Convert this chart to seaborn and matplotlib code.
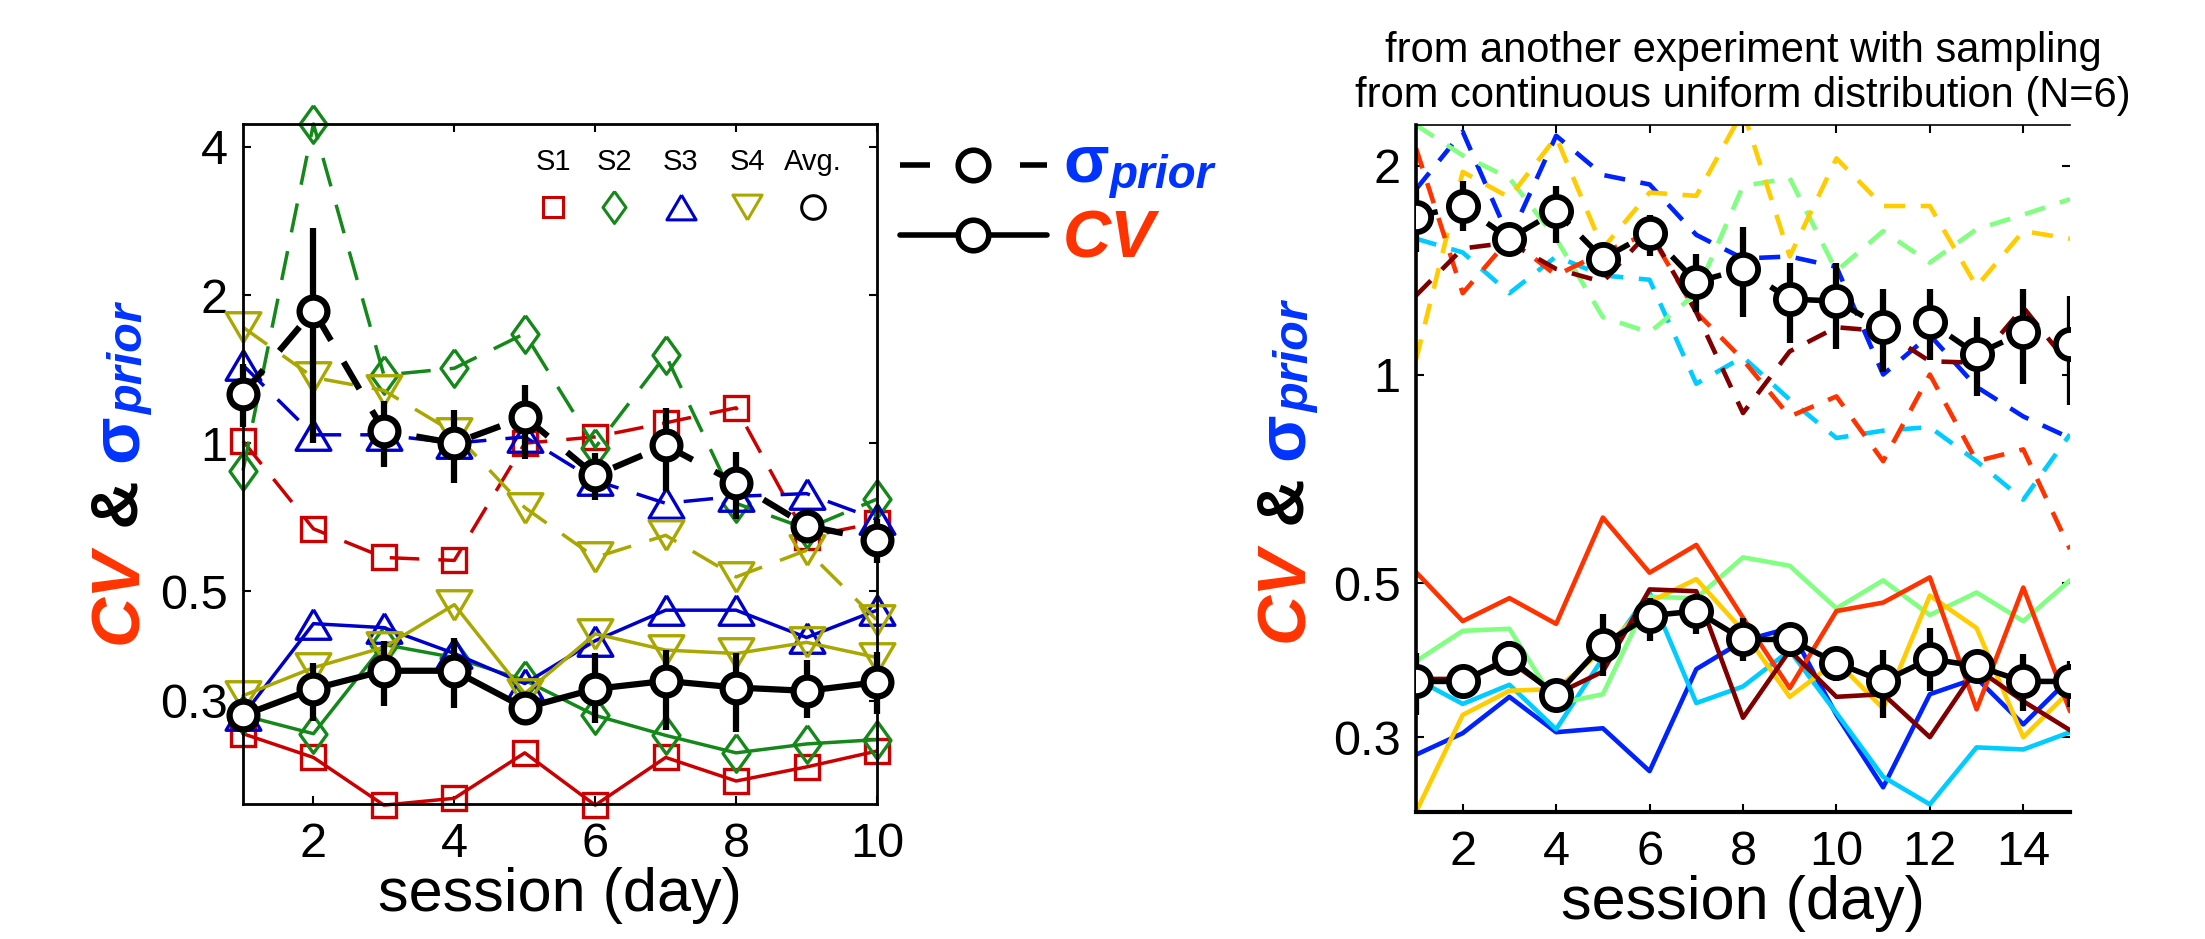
import numpy as np
import pandas as pd
import seaborn as sns
import matplotlib.pyplot as plt
from matplotlib.lines import Line2D
from matplotlib.ticker import NullLocator

sns.set_style("ticks")
plt.rcParams['font.family'] = ['Liberation Sans', 'DejaVu Sans']
plt.rcParams.update({'text.color': 'black', 'axes.labelcolor': 'black',
                     'xtick.color': 'black', 'ytick.color': 'black',
                     'axes.edgecolor': 'black'})

# ---------------- left panel: 4 subjects, 10 sessions ----------------
sessions_a = [1, 2, 3, 4, 5, 6, 7, 8, 9, 10]
s1_prior = [1.01, 0.67, 0.586, 0.578, 1.0, 1.03, 1.10, 1.18, 0.645, 0.69]
s2_prior = [0.88, 4.45, 1.375, 1.42, 1.67, 0.98, 1.51, 0.755, 0.67, 0.77]
s3_prior = [1.44, 1.04, 1.04, 1.0, 1.03, 0.84, 0.755, 0.78, 0.79, 0.70]
s4_prior = [1.72, 1.36, 1.28, 1.05, 0.74, 0.586, 0.65, 0.535, 0.606, 0.437]
s1_cv = [0.257, 0.23, 0.184, 0.19, 0.235, 0.184, 0.23, 0.206, 0.22, 0.237]
s2_cv = [0.28, 0.257, 0.39, 0.367, 0.33, 0.28, 0.255, 0.235, 0.245, 0.25]
s3_cv = [0.28, 0.43, 0.422, 0.374, 0.325, 0.397, 0.458, 0.458, 0.403, 0.458]
s4_cv = [0.307, 0.35, 0.385, 0.47, 0.31, 0.41, 0.38, 0.374, 0.394, 0.367]
avg_prior = [1.26, 1.86, 1.06, 1.0, 1.13, 0.86, 0.99, 0.83, 0.68, 0.635]
avg_prior_lo = [1.08, 1.0, 0.894, 0.83, 0.93, 0.766, 0.80, 0.70, 0.645, 0.57]
avg_prior_hi = [1.45, 2.74, 1.22, 1.17, 1.31, 0.954, 1.18, 0.96, 0.72, 0.70]
avg_cv = [0.28, 0.317, 0.345, 0.345, 0.29, 0.317, 0.329, 0.319, 0.314, 0.327]
avg_cv_lo = [0.275, 0.273, 0.293, 0.29, 0.285, 0.27, 0.261, 0.259, 0.276, 0.282]
avg_cv_hi = [0.285, 0.357, 0.397, 0.403, 0.295, 0.374, 0.38, 0.374, 0.362, 0.376]
subject_names = ['S1', 'S2', 'S3', 'S4', 'Avg.']

# ---------------- right panel: 6 subjects, 15 sessions ----------------
sessions_b = list(range(1, 16))
blue_prior = [1.85, 2.24, 1.57, 2.21, 1.94, 1.88, 1.59, 1.47, 1.48, 1.43, 1.0, 1.14, 0.96, 0.87, 0.81]
cyan_prior = [1.57, 1.50, 1.31, 1.48, 1.39, 1.37, 0.97, 1.06, 0.92, 0.81, 0.83, 0.84, 0.75, 0.66, 0.82]
green_prior = [2.29, 2.07, 1.92, 1.57, 1.21, 1.15, 1.31, 1.87, 1.92, 1.41, 1.61, 1.45, 1.62, 1.70, 1.79]
yellow_prior = [1.05, 1.96, 1.80, 2.20, 1.52, 1.83, 1.81, 2.40, 1.48, 2.05, 1.75, 1.75, 1.34, 1.61, 1.57]
red_prior = [2.12, 1.31, 1.57, 1.39, 1.50, 1.60, 1.23, 1.05, 0.87, 0.93, 0.75, 1.0, 0.75, 0.78, 0.56]
darkred_prior = [1.30, 1.52, 1.55, 1.42, 1.36, 1.61, 1.23, 0.88, 1.08, 1.17, 1.155, 1.045, 1.04, 1.25, 1.03]
blue_cv = [0.283, 0.304, 0.343, 0.305, 0.309, 0.268, 0.376, 0.413, 0.431, 0.323, 0.254, 0.346, 0.365, 0.313, 0.365]
cyan_cv = [0.364, 0.335, 0.357, 0.308, 0.39, 0.485, 0.336, 0.355, 0.40, 0.325, 0.263, 0.24, 0.29, 0.288, 0.305]
green_cv = [0.386, 0.427, 0.43, 0.335, 0.346, 0.478, 0.476, 0.545, 0.53, 0.46, 0.505, 0.45, 0.485, 0.441, 0.505]
yellow_cv = [0.234, 0.323, 0.35, 0.352, 0.40, 0.47, 0.507, 0.427, 0.343, 0.386, 0.33, 0.48, 0.431, 0.30, 0.35]
red_cv = [0.519, 0.441, 0.476, 0.437, 0.622, 0.518, 0.568, 0.446, 0.353, 0.456, 0.469, 0.51, 0.329, 0.493, 0.327]
darkred_cv = [0.364, 0.364, 0.386, 0.346, 0.373, 0.49, 0.487, 0.32, 0.40, 0.343, 0.346, 0.30, 0.377, 0.338, 0.307]
avgb_prior = [1.69, 1.75, 1.57, 1.72, 1.47, 1.60, 1.36, 1.42, 1.285, 1.276, 1.17, 1.19, 1.07, 1.15, 1.105]
avgb_prior_lo = [1.50, 1.61, 1.52, 1.55, 1.42, 1.48, 1.23, 1.21, 1.11, 1.09, 1.01, 1.05, 0.93, 0.97, 0.905]
avgb_prior_hi = [1.87, 1.90, 1.62, 1.87, 1.52, 1.70, 1.49, 1.63, 1.45, 1.45, 1.33, 1.33, 1.21, 1.33, 1.30]
avgb_cv = [0.361, 0.361, 0.39, 0.345, 0.408, 0.449, 0.456, 0.415, 0.415, 0.384, 0.361, 0.389, 0.38, 0.361, 0.361]
avgb_cv_lo = [0.323, 0.35, 0.373, 0.334, 0.368, 0.413, 0.422, 0.386, 0.40, 0.361, 0.32, 0.35, 0.361, 0.327, 0.332]
avgb_cv_hi = [0.397, 0.373, 0.413, 0.36, 0.452, 0.476, 0.483, 0.446, 0.43, 0.403, 0.401, 0.431, 0.395, 0.395, 0.386]

W, H = 2205, 939
fig = plt.figure(figsize=(W / 100, H / 100), dpi=100)
CV_RED = '#ff3300'
SIG_BLUE = '#0033ff'

# marker shapes (slightly flattened triangles, tall diamond like the original)
tri_up = [(0, 0.85), (-1, -0.85), (1, -0.85), (0, 0.85)]
tri_dn = [(0, -0.85), (-1, 0.85), (1, 0.85), (0, -0.85)]
diamond = [(0, 1), (0.72, 0), (0, -1), (-0.72, 0), (0, 1)]


def draw(ax, x, y, color, marker, ls, ms, lw, mew, mfc='none', z=2, clip=True):
    sns.lineplot(x=x, y=y, ax=ax, color=color, marker=marker, linestyle=ls,
                 lw=lw, ms=ms, mfc=mfc, mec=color, mew=mew, errorbar=None,
                 legend=False, zorder=z, clip_on=clip)


def style_axes(ax, ylim, yticks, xticks):
    ax.set_yscale('log')
    ax.set_ylim(*ylim)
    ax.set_yticks(yticks)
    ax.set_yticklabels([f'{t:g}' for t in yticks])
    ax.yaxis.set_minor_locator(NullLocator())
    ax.set_xticks(xticks)
    ax.set_xticklabels([str(t) for t in xticks])
    ax.tick_params(direction='in', length=6, width=1.5, labelsize=35,
                   top=True, right=True)
    ax.tick_params(axis='x', pad=13)
    ax.tick_params(axis='y', pad=11)
    ax.set_xlabel('session (day)', fontsize=44, labelpad=0)
    ax.set_ylabel('')


# ---------------- left panel ----------------
ax1 = fig.add_axes([243 / W, 1 - 804 / H, (877 - 243) / W, (804 - 124) / H])
style_axes(ax1, (0.185, 4.45), [0.3, 0.5, 1, 2, 4], [2, 4, 6, 8, 10])
ax1.set_xlim(1, 10)
for sp in ax1.spines.values():
    sp.set_linewidth(2)

left_series = [
    (s1_prior, s1_cv, '#cc0000', 's', 17),
    (s2_prior, s2_cv, '#14891a', diamond, 27),
    (s3_prior, s3_cv, '#0000cc', tri_up, 25),
    (s4_prior, s4_cv, '#a8a800', tri_dn, 25),
]
dash_a = (0, (8.5, 5.5))
for prior, cv, col, mk, ms in left_series:
    draw(ax1, sessions_a, prior, col, mk, dash_a, ms, 2.5, 2.4, clip=False)
    draw(ax1, sessions_a, cv, col, mk, '-', ms, 2.5, 2.4, clip=False)

ax1.vlines(sessions_a, avg_prior_lo, avg_prior_hi, color='k', lw=4.5, zorder=5, clip_on=False)
ax1.vlines(sessions_a, avg_cv_lo, avg_cv_hi, color='k', lw=4.5, zorder=5, clip_on=False)
draw(ax1, sessions_a, avg_prior, 'k', 'o', (0, (5, 4)), 20, 4.5, 4.5, mfc='white', z=6, clip=False)
draw(ax1, sessions_a, avg_cv, 'k', 'o', '-', 20, 4.5, 4.5, mfc='white', z=6, clip=False)

# in-axes key: names above markers
key_x = [553, 614, 681, 747, 813]
key_cols = ['#cc0000', '#14891a', '#0000cc', '#a8a800', 'k']
key_mk = ['s', diamond, tri_up, tri_dn, 'o']
key_ms = [15, 23, 21, 21, 17]
for name, kx, kc, km, kms in zip(subject_names, key_x, key_cols, key_mk, key_ms):
    fig.text(kx / W, 1 - 162 / H, name, fontsize=21, ha='center', va='center')
    fig.add_artist(Line2D([kx / W], [1 - 207 / H], transform=fig.transFigure,
                          marker=km, ms=kms, mfc='none', mec=kc, mew=2.2, ls='none'))

# outside key: dashed = sigma prior, solid = CV
fig.add_artist(Line2D([900 / W, 973 / W, 1047 / W], [1 - 165 / H] * 3, transform=fig.transFigure,
                      color='k', lw=4, ls=(0, (5.4, 5.4)), marker='o', markevery=[1],
                      ms=22, mfc='white', mec='k', mew=4))
fig.add_artist(Line2D([900 / W, 973 / W, 1047 / W], [1 - 235 / H] * 3, transform=fig.transFigure,
                      color='k', lw=4, ls='-', marker='o', markevery=[1],
                      ms=22, mfc='white', mec='k', mew=4))

renderer = fig.canvas.get_renderer()


def horizontal_label(x_px, y_px, parts):
    for text, color, size, weight, style, shift in parts:
        t = fig.text(x_px / W, 1 - (y_px + shift) / H, text, color=color, fontsize=size,
                     fontweight=weight, fontstyle=style, ha='left', va='baseline')
        x_px += t.get_window_extent(renderer).width


def vertical_label(x_px, y_px, parts):
    for text, color, size, weight, style, shift in parts:
        t = fig.text((x_px + shift) / W, 1 - y_px / H, text, color=color, fontsize=size,
                     fontweight=weight, fontstyle=style, rotation=90,
                     rotation_mode='anchor', ha='left', va='baseline')
        y_px -= t.get_window_extent(renderer).height


horizontal_label(1063, 182, [('σ', SIG_BLUE, 48, 'bold', 'normal', 0),
                             ('prior', SIG_BLUE, 33, 'bold', 'italic', 6)])
horizontal_label(1063, 257, [('CV', CV_RED, 48, 'bold', 'italic', 0)])

ylabel_parts = [('CV', CV_RED, 50, 'bold', 'italic', 0),
                (' & ', 'black', 48, 'bold', 'normal', 0),
                ('σ', SIG_BLUE, 50, 'bold', 'normal', 0),
                ('prior', SIG_BLUE, 35, 'bold', 'italic', 6)]
vertical_label(137, 644, ylabel_parts)

# ---------------- right panel ----------------
ax2 = fig.add_axes([1416 / W, 1 - 812 / H, (2070 - 1416) / W, (812 - 125) / H])
style_axes(ax2, (0.234, 2.29), [0.3, 0.5, 1, 2], [2, 4, 6, 8, 10, 12, 14])
ax2.set_xlim(1, 15)
ax2.spines['left'].set_linewidth(2.6)
ax2.spines['bottom'].set_linewidth(3)
ax2.spines['top'].set_linewidth(1.2)
ax2.spines['right'].set_visible(False)

right_series = [
    (blue_prior, blue_cv, '#0022ff'),
    (cyan_prior, cyan_cv, '#00ccff'),
    (green_prior, green_cv, '#80ff80'),
    (yellow_prior, yellow_cv, '#ffcc00'),
    (red_prior, red_cv, '#ff3300'),
    (darkred_prior, darkred_cv, '#800000'),
]
dash_b = (0, (4.6, 3.4))
for prior, cv, col in right_series:
    draw(ax2, sessions_b, prior, col, None, dash_b, 0, 3.3, 0)
    draw(ax2, sessions_b, cv, col, None, '-', 0, 3.3, 0)

ax2.vlines(sessions_b, avgb_prior_lo, avgb_prior_hi, color='k', lw=4.5, zorder=5)
ax2.vlines(sessions_b, avgb_cv_lo, avgb_cv_hi, color='k', lw=4.5, zorder=5)
draw(ax2, sessions_b, avgb_prior, 'k', 'o', (0, (4, 3)), 21, 4, 4.2, mfc='white', z=6)
draw(ax2, sessions_b, avgb_cv, 'k', 'o', '-', 21, 4, 4.2, mfc='white', z=6)

ax2.set_title('from another experiment with sampling\nfrom continuous uniform distribution (N=6)',
              fontsize=30, pad=13, linespacing=1.17)
vertical_label(1303, 642, ylabel_parts)

fig.savefig('out.png', dpi=100)
